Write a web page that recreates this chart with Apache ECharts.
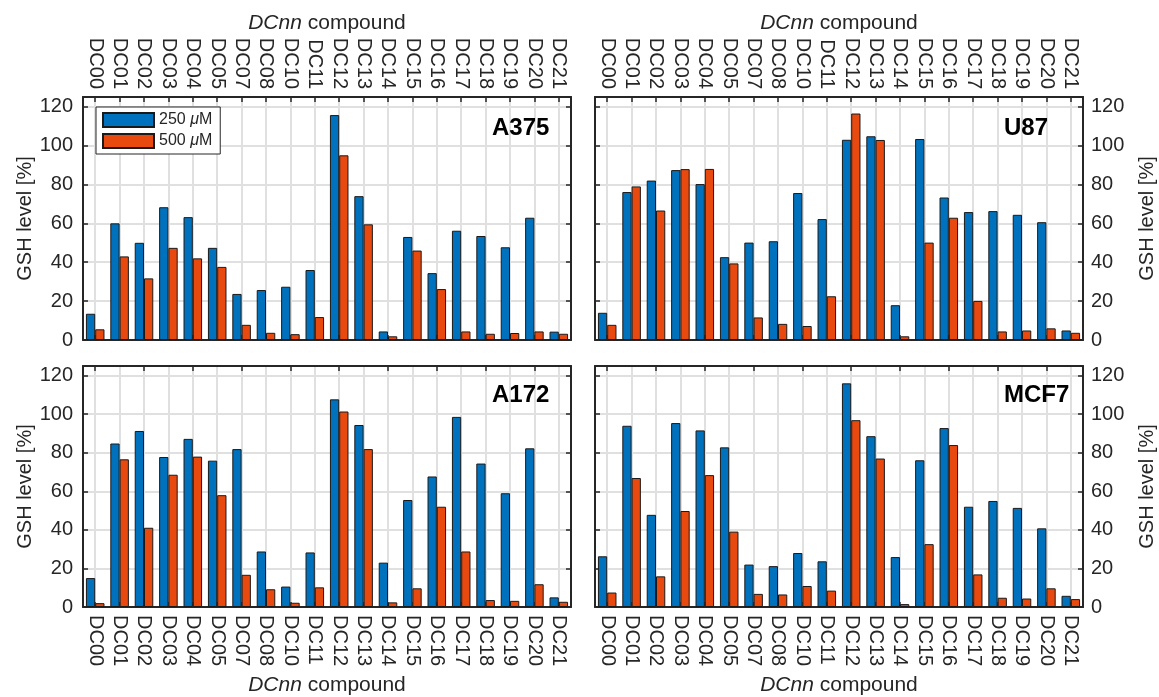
<!DOCTYPE html>
<html>
<head>
<meta charset="utf-8">
<script src="https://cdn.jsdelivr.net/npm/echarts@6/dist/echarts.min.js"></script>
<style>html,body{margin:0;padding:0;background:#fff}#c{width:1159px;height:697px}</style>
</head>
<body>
<div id="c"></div>
<script>
const categories = ['DC00','DC01','DC02','DC03','DC04','DC05','DC07','DC08','DC10','DC11','DC12','DC13','DC14','DC15','DC16','DC17','DC18','DC19','DC20','DC21'];
const seriesNames = ['250 μM', '500 μM'];
const panelNames = ['A375', 'U87', 'A172', 'MCF7'];
const yTicks = [0, 20, 40, 60, 80, 100, 120];

const a375_250 = [13.5, 60, 50, 68.3, 63.2, 47.4, 23.7, 25.7, 27.4, 36, 115.7, 74, 4.4, 53, 34.4, 56.2, 53.5, 47.7, 62.9, 4.3];
const a375_500 = [5.5, 43, 31.7, 47.4, 42, 37.6, 7.8, 3.7, 3, 11.8, 95, 59.5, 1.9, 46, 26.2, 4.4, 3.2, 3.6, 4.4, 3.2];
const u87_250 = [14, 76.1, 82, 87.4, 80.2, 42.6, 50.1, 50.8, 75.6, 62.2, 103, 104.8, 17.9, 103.4, 73.3, 65.8, 66.3, 64.4, 60.6, 4.9];
const u87_500 = [7.8, 79, 66.6, 87.9, 88, 39.4, 11.6, 8.3, 7.2, 22.5, 116.5, 102.9, 1.9, 50.1, 62.9, 20.1, 4.4, 4.9, 6, 3.7];
const a172_250 = [15, 84.8, 91.3, 77.8, 87.2, 75.9, 81.9, 28.8, 10.6, 28.3, 107.7, 94.4, 23, 55.5, 67.7, 98.6, 74.4, 59, 82.3, 5];
const a172_500 = [2, 76.6, 41.1, 68.6, 78, 58, 16.7, 9.2, 2.2, 10.2, 101.4, 81.9, 2.4, 9.7, 52, 28.8, 3.6, 3.2, 11.8, 2.7];
const mcf7_250 = [26.3, 94, 47.8, 95.4, 91.6, 82.8, 22, 21.2, 28, 23.7, 116, 88.6, 25.9, 76.1, 92.8, 52, 55, 51.4, 40.8, 5.8];
const mcf7_500 = [7.5, 66.9, 15.9, 49.8, 68.4, 39.1, 6.8, 6.5, 10.9, 8.5, 96.9, 77, 1.5, 32.6, 84, 16.9, 4.8, 4.4, 9.7, 4.1];

const panelData = [[a375_250, a375_500], [u87_250, u87_500], [a172_250, a172_500], [mcf7_250, mcf7_500]];
const colors = ['#0072BD', '#E8490F'];
const dark = '#262626';
const FONT = 'Liberation Sans, Arial, Helvetica, sans-serif';

const grids = [
  {left: 83, top: 97, width: 488, height: 243},
  {left: 595, top: 97, width: 488, height: 243},
  {left: 83, top: 366, width: 488, height: 243},
  {left: 595, top: 366, width: 488, height: 243}
];

const xAxes = [], yAxes = [], series = [], graphics = [];
for (let i = 0; i < 4; i++) {
  const isTop = i < 2;
  const isLeft = i % 2 === 0;
  const labelPos = isTop ? 'top' : 'bottom';
  const otherPos = isTop ? 'bottom' : 'top';
  const baseX = {
    type: 'category', gridIndex: i, data: categories, boundaryGap: true,
    axisLine: {show: true, onZero: false, lineStyle: {color: dark, width: 2}},
    axisTick: {show: true, inside: true, alignWithLabel: true, length: 5, lineStyle: {color: dark, width: 1.5}}
  };
  xAxes.push(Object.assign({}, baseX, {
    position: labelPos,
    axisLabel: {show: true, rotate: isTop ? 90 : -90, interval: 0, fontSize: 20, color: dark, fontFamily: FONT, margin: 8},
    splitLine: {show: true, alignWithLabel: true, interval: 0, lineStyle: {color: '#e0e0e0', width: 2}},
    name: '{i|DCnn} compound', nameLocation: 'middle', nameGap: isTop ? 62 : 68,
    nameTextStyle: {fontSize: 21, color: dark, fontFamily: FONT, rich: {i: {fontStyle: 'italic', fontSize: 21, color: dark, fontFamily: FONT}}}
  }));
  xAxes.push(Object.assign({}, baseX, {
    position: otherPos,
    axisLabel: {show: false},
    splitLine: {show: false}
  }));
  const baseY = {
    type: 'value', gridIndex: i, min: 0, max: 125, interval: 20,
    axisLine: {show: true, lineStyle: {color: dark, width: 2}},
    axisTick: {show: true, inside: true, length: 5, lineStyle: {color: dark, width: 1.5}}
  };
  yAxes.push(Object.assign({}, baseY, {
    position: isLeft ? 'left' : 'right',
    axisLabel: {show: true, fontSize: 20, color: dark, fontFamily: FONT, margin: isLeft ? 10 : 8,
      formatter: v => (yTicks.indexOf(v) >= 0 ? String(v) : '')},
    splitLine: {show: true, lineStyle: {color: '#e0e0e0', width: 2}},
    name: 'GSH level [%]', nameLocation: 'middle', nameGap: isLeft ? 47 : 54,
    nameTextStyle: {fontSize: 20, color: dark, fontFamily: FONT}
  }));
  yAxes.push(Object.assign({}, baseY, {
    position: isLeft ? 'right' : 'left',
    axisLabel: {show: false},
    splitLine: {show: false}
  }));
  for (let s = 0; s < 2; s++) {
    series.push({
      type: 'bar', name: seriesNames[s], xAxisIndex: 2 * i, yAxisIndex: 2 * i,
      data: panelData[i][s], barWidth: '38%', barGap: '0%',
      itemStyle: {color: colors[s], borderColor: '#1a1a1a', borderWidth: 1},
      emphasis: {disabled: true}
    });
  }
  const g = grids[i];
  graphics.push({
    type: 'text', left: g.left + g.width - 79, top: g.top + (isTop ? 19 : 17), z: 100,
    style: {text: panelNames[i], font: 'bold 24px ' + FONT, fill: '#000'}
  });
}

const chart = echarts.init(document.getElementById('c'));
chart.setOption({
  animation: false,
  textStyle: {fontFamily: FONT},
  grid: grids,
  xAxis: xAxes,
  yAxis: yAxes,
  series: series,
  graphic: graphics,
  legend: {
    data: seriesNames, orient: 'vertical', left: 96, top: 107,
    itemWidth: 51, itemHeight: 14, itemGap: 5, icon: 'rect',
    padding: [5, 8, 5, 6], backgroundColor: '#fff', borderColor: dark, borderWidth: 1,
    selectedMode: false,
    formatter: n => n.replace('μ', '{i|μ}'),
    textStyle: {fontSize: 16, color: dark, fontFamily: FONT, rich: {i: {fontStyle: 'italic', fontSize: 16, color: dark, fontFamily: FONT}}}
  }
});
</script>
</body>
</html>
